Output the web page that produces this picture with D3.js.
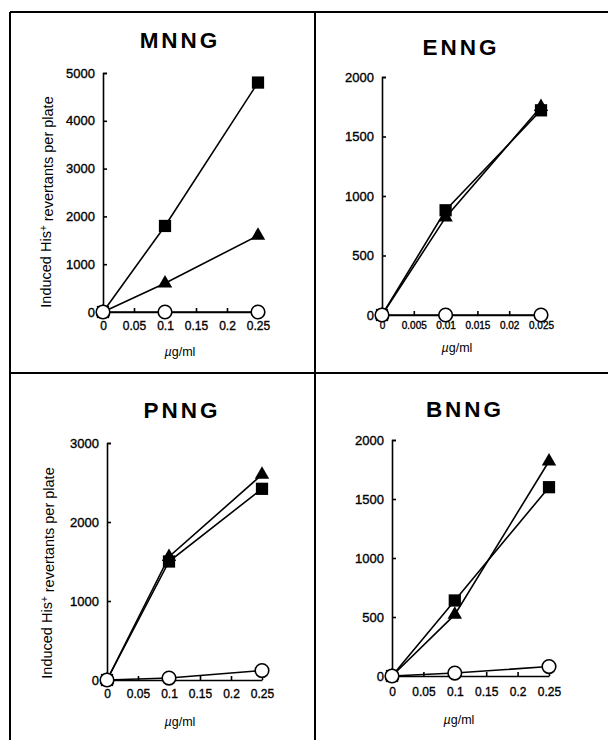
<!DOCTYPE html>
<html>
<head>
<meta charset="utf-8">
<script src="https://cdn.jsdelivr.net/npm/d3@7"></script>
<style>
  body { margin: 0; background: #fff; }
  svg { display: block; font-family: "Liberation Sans", Arial, sans-serif; }
</style>
</head>
<body>
<script>
// Panel names and their data
const panelNames = ["MNNG", "ENNG", "PNNG", "BNNG"];

const mnngDose = [0, 0.1, 0.25];
const mnngSquare = [0, 1800, 4800];
const mnngTriangle = [0, 600, 1600];
const mnngCircle = [0, 0, 0];

const enngDose = [0, 0.01, 0.025];
const enngSquare = [0, 880, 1720];
const enngTriangle = [0, 820, 1750];
const enngCircle = [0, 0, 0];

const pnngDose = [0, 0.1, 0.25];
const pnngSquare = [0, 1500, 2420];
const pnngTriangle = [0, 1560, 2600];
const pnngCircle = [0, 25, 120];

const bnngDose = [0, 0.1, 0.25];
const bnngSquare = [0, 640, 1600];
const bnngTriangle = [0, 520, 1820];
const bnngCircle = [0, 25, 80];

// tick values
const doseTicks = [0, 0.05, 0.1, 0.15, 0.2, 0.25];
const enngDoseTicks = [0, 0.005, 0.01, 0.015, 0.02, 0.025];
const mnngYTicks = [0, 1000, 2000, 3000, 4000, 5000];
const enngYTicks = [0, 500, 1000, 1500, 2000];
const pnngYTicks = [0, 1000, 2000, 3000];
const bnngYTicks = [0, 500, 1000, 1500, 2000];

const panelData = [
  { dose: mnngDose, sq: mnngSquare, tri: mnngTriangle, circ: mnngCircle, xTicks: doseTicks, yTicks: mnngYTicks },
  { dose: enngDose, sq: enngSquare, tri: enngTriangle, circ: enngCircle, xTicks: enngDoseTicks, yTicks: enngYTicks },
  { dose: pnngDose, sq: pnngSquare, tri: pnngTriangle, circ: pnngCircle, xTicks: doseTicks, yTicks: pnngYTicks },
  { dose: bnngDose, sq: bnngSquare, tri: bnngTriangle, circ: bnngCircle, xTicks: doseTicks, yTicks: bnngYTicks }
];

// layout for each panel (pixel positions)
const layout = [
  { xr: [103, 258], yr: [312, 73], title: [179, 48], unit: [180, 356], pad: 9, fs: 12, ylab: [46, 202] },
  { xr: [382, 541], yr: [315, 77], title: [460, 55], unit: [457, 352], pad: 7, fs: 10, ylab: null },
  { xr: [107, 262], yr: [680, 443], title: [181, 418], unit: [180, 726], pad: 9.5, fs: 12, ylab: [47, 573] },
  { xr: [392, 549], yr: [676, 440], title: [464, 417], unit: [459, 724], pad: 11, fs: 12, ylab: null }
];

const width = 608;
const height = 740;

const svg = d3.select("body")
  .append("svg")
  .attr("width", width)
  .attr("height", height);

// panel frame
const frame = svg.append("g")
  .attr("stroke", "#000")
  .attr("stroke-width", 2);
frame.append("line").attr("x1", 10).attr("y1", 12).attr("x2", 10).attr("y2", height);
frame.append("line").attr("x1", 10).attr("y1", 12).attr("x2", width).attr("y2", 12);
frame.append("line").attr("x1", 315).attr("y1", 12).attr("x2", 315).attr("y2", height);
frame.append("line").attr("x1", 10).attr("y1", 373).attr("x2", width).attr("y2", 373);

panelNames.forEach((name, i) => {
  const d = panelData[i];
  const L = layout[i];
  const g = svg.append("g");

  const x = d3.scaleLinear().domain([0, d3.max(d.xTicks)]).range(L.xr);
  const y = d3.scaleLinear().domain([0, d3.max(d.yTicks)]).range(L.yr);

  // title
  g.append("text")
    .attr("x", L.title[0] + 1)
    .attr("y", L.title[1])
    .attr("text-anchor", "middle")
    .style("font-size", "22.5px")
    .style("font-weight", "bold")
    .style("letter-spacing", "3px")
    .text(name);

  // y axis
  const yAxis = g.append("g")
    .attr("transform", `translate(${L.xr[0]},0)`)
    .call(d3.axisLeft(y).tickValues(d.yTicks).tickSize(-4).tickSizeOuter(-4).tickPadding(8).tickFormat(d3.format("d")));

  // x axis
  const fmt = (v) => (v === 0 ? "0" : String(+v.toFixed(3)));
  const xAxis = g.append("g")
    .attr("transform", `translate(0,${L.yr[0]})`)
    .call(d3.axisBottom(x).tickValues(d.xTicks).tickSize(-4).tickSizeOuter(0).tickPadding(L.pad).tickFormat(fmt));

  [yAxis, xAxis].forEach((ax) => {
    ax.selectAll("path, line").attr("stroke", "#000").attr("stroke-width", 1.6);
    ax.selectAll("text")
      .attr("fill", "#000")
      .attr("stroke", "#000")
      .attr("stroke-width", 0.35)
      .style("font-family", "\"Liberation Sans\", Arial, sans-serif");
  });
  yAxis.selectAll("text").style("font-size", "13px");
  xAxis.selectAll("text").style("font-size", L.fs + "px");

  // unit label
  const unit = g.append("text")
    .attr("x", L.unit[0])
    .attr("y", L.unit[1])
    .attr("text-anchor", "middle")
    .style("font-size", "12.5px");
  unit.append("tspan").style("font-style", "italic").text("\u00b5");
  unit.append("tspan").text("g/ml");

  // y label
  if (L.ylab) {
    const t = g.append("text")
      .attr("transform", `translate(${L.ylab[0]},${L.ylab[1]}) rotate(-90)`)
      .attr("text-anchor", "middle")
      .attr("dy", "0.35em")
      .style("font-size", "14.5px");
    t.append("tspan").text("Induced His");
    t.append("tspan").attr("dy", "-0.45em").style("font-size", "10px").text("+");
    t.append("tspan").attr("dy", "0.45em").text(" revertants per plate");
  }

  // lines
  const line = d3.line().x((v, j) => x(d.dose[j])).y((v) => y(v));
  [d.sq, d.tri, d.circ].forEach((series) => {
    g.append("path")
      .attr("d", line(series))
      .attr("fill", "none")
      .attr("stroke", "#000")
      .attr("stroke-width", 1.6);
  });

  // markers
  g.selectAll(".sq")
    .data(d.sq)
    .enter()
    .append("path")
    .attr("transform", (v, j) => `translate(${x(d.dose[j])},${y(v)})`)
    .attr("d", d3.symbol().type(d3.symbolSquare).size(150))
    .attr("fill", "#000");

  g.selectAll(".tri")
    .data(d.tri)
    .enter()
    .append("path")
    .attr("transform", (v, j) => `translate(${x(d.dose[j])},${y(v)})`)
    .attr("d", d3.symbol().type(d3.symbolTriangle).size(90))
    .attr("fill", "#000");

  g.selectAll(".circ")
    .data(d.circ)
    .enter()
    .append("circle")
    .attr("cx", (v, j) => x(d.dose[j]))
    .attr("cy", (v) => y(v))
    .attr("r", 6.8)
    .attr("fill", "#fff")
    .attr("stroke", "#000")
    .attr("stroke-width", 1.6);
});
</script>
</body>
</html>
